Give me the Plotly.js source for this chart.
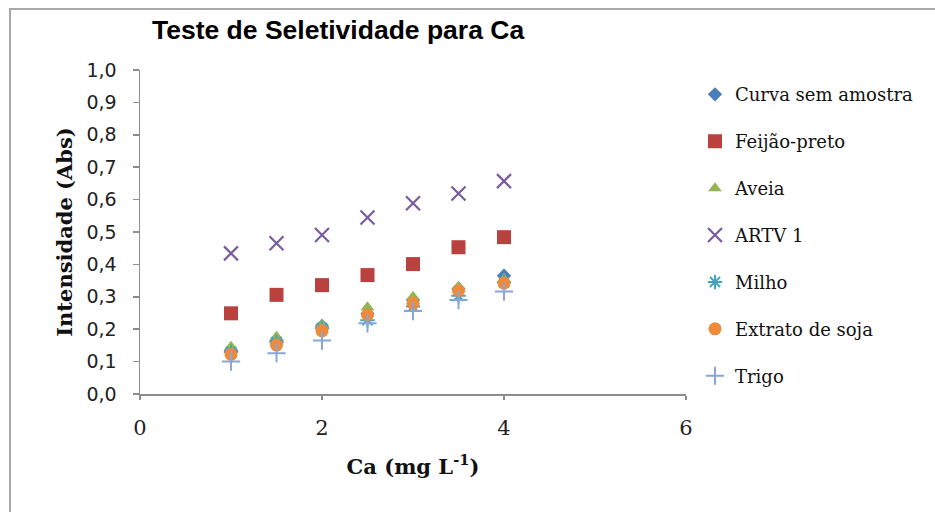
<!DOCTYPE html>
<html>
<head>
<meta charset="utf-8">
<script src="https://cdn.plot.ly/plotly-3.0.1.min.js"></script>
<style>
  html, body { margin: 0; padding: 0; background: #ffffff; }
  #frame {
    position: absolute; left: 9px; top: 8px; width: 940px; height: 520px;
    border-left: 2px solid #a9a9a9; border-top: 2px solid #a9a9a9;
    pointer-events: none;
  }
  #chart { position: absolute; left: 0; top: 0; width: 935px; height: 512px; }
</style>
</head>
<body>
<div id="chart"></div>
<div id="frame"></div>
<script>
// Ca concentration (mg L-1) for every series
const concentracao = [1, 1.5, 2, 2.5, 3, 3.5, 4];

// Absorbance readings per matrix
const curvaSemAmostra = [0.135, 0.165, 0.210, 0.248, 0.290, 0.325, 0.365];
const feijaoPreto     = [0.249, 0.306, 0.336, 0.367, 0.401, 0.453, 0.484];
const aveia           = [0.146, 0.177, 0.213, 0.268, 0.300, 0.331, 0.355];
const artv1           = [0.434, 0.465, 0.491, 0.545, 0.589, 0.619, 0.657];
const milho           = [0.130, 0.160, 0.203, 0.228, 0.270, 0.303, 0.345];
const extratoSoja     = [0.122, 0.151, 0.195, 0.244, 0.280, 0.319, 0.342];
const trigo           = [0.100, 0.126, 0.165, 0.218, 0.256, 0.290, 0.316];

const nomesSeries = ['Curva sem amostra', 'Feijão-preto', 'Aveia', 'ARTV 1', 'Milho', 'Extrato de soja', 'Trigo'];
const xTicks = [0, 2, 4, 6];
const yTicks = [0, 0.1, 0.2, 0.3, 0.4, 0.5, 0.6, 0.7, 0.8, 0.9, 1.0];

const serifFont = 'DejaVu Serif, Liberation Serif, serif';

function serie(nome, y, marker) {
  return {
    type: 'scatter', mode: 'markers', name: nome, legendgroup: nome,
    x: concentracao, y: y, marker: marker, hoverinfo: 'x+y+name'
  };
}

const traces = [
  serie(nomesSeries[0], curvaSemAmostra, { symbol: 'diamond', size: 11, color: '#4a7ebb' }),
  serie(nomesSeries[1], feijaoPreto, { symbol: 'square', size: 14, color: '#b9413e' }),
  serie(nomesSeries[2], aveia, { symbol: 'triangle-up', size: 12, color: '#93b553' }),
  serie(nomesSeries[3], artv1, { symbol: 'x-thin-open', size: 14, color: '#7a5c9e', line: { width: 2.2, color: '#7a5c9e' } }),
  serie(nomesSeries[4], milho, { symbol: 'asterisk-open', size: 12, color: '#43a4c0', line: { width: 2, color: '#43a4c0' } }),
  serie(nomesSeries[5], extratoSoja, { symbol: 'circle', size: 13, color: '#ee8a3c' }),
  serie(nomesSeries[6], trigo, { symbol: 'cross-thin-open', size: 13, color: '#88a6d8', line: { width: 2, color: '#88a6d8' } })
];

const layout = {
  width: 935, height: 512,
  paper_bgcolor: 'rgba(0,0,0,0)', plot_bgcolor: 'rgba(0,0,0,0)',
  separators: ',.',
  margin: { l: 140, r: 249, t: 70, b: 118 },
  showlegend: true,
  title: {
    text: 'Teste de Seletividade para Ca',
    font: { family: 'Liberation Sans Narrow, Liberation Sans, sans-serif', size: 26.5, color: '#000000', weight: 'bold' },
    xref: 'container', x: 152 / 935, xanchor: 'left',
    yref: 'container', y: 1 - 30 / 512, yanchor: 'middle'
  },
  xaxis: {
    range: [0, 6], tickvals: xTicks, ticktext: xTicks.map(String),
    showgrid: false, zeroline: false,
    showline: true, linecolor: '#8c8c8c', linewidth: 1.5,
    ticks: 'outside', ticklen: 4, tickcolor: '#8c8c8c', tickwidth: 1.5,
    tickfont: { family: serifFont, size: 21, color: '#222222' },
    ticklabelstandoff: 10,
    title: { text: '<b>Ca (mg L<sup>-1</sup>)</b>', font: { family: serifFont, size: 21, color: '#111111' }, standoff: 20 },
    fixedrange: true
  },
  yaxis: {
    range: [0, 1], tickvals: yTicks, tickformat: '.1f',
    showgrid: false, zeroline: false,
    showline: true, linecolor: '#8c8c8c', linewidth: 1.5,
    ticks: 'outside', ticklen: 6, tickcolor: '#8c8c8c', tickwidth: 1.5,
    tickfont: { family: 'DejaVu Sans, sans-serif', size: 19, color: '#222222' },
    ticklabelstandoff: 12,
    title: { text: '<b>Intensidade (Abs)</b>', font: { family: serifFont, size: 21, color: '#111111' }, standoff: 8 },
    fixedrange: true
  },
  legend: {
    x: (695 - 140) / 546, xanchor: 'left',
    y: 0.981, yanchor: 'top',
    maxheight: 1,
    font: { family: serifFont, size: 18, color: '#111111' },
    bgcolor: 'rgba(0,0,0,0)',
    tracegroupgap: 20.5,
    itemclick: false, itemdoubleclick: false
  }
};

Plotly.newPlot('chart', traces, layout, { displayModeBar: false, staticPlot: true });
</script>
</body>
</html>
